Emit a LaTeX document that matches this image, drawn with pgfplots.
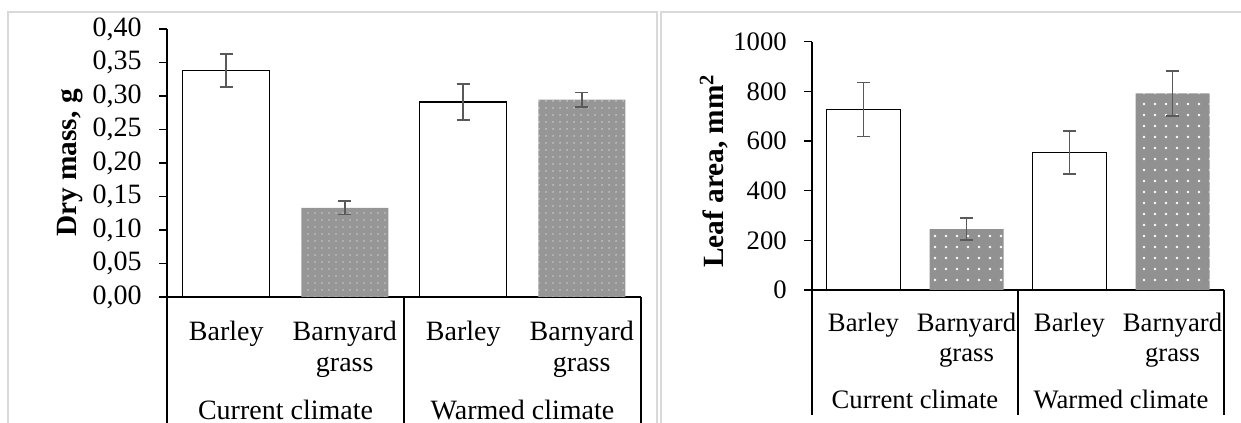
\documentclass[border=0pt]{standalone}
\usepackage{pgfplots}
\pgfplotsset{compat=1.18}
\usepackage{fontspec}
\setmainfont{Liberation Serif}
\usetikzlibrary{patterns.meta}
\definecolor{errgray}{RGB}{89,89,89}
\definecolor{framegray}{RGB}{217,217,217}
\definecolor{patgrayA}{RGB}{150,150,150}
\definecolor{patgrayB}{RGB}{145,145,145}
\newcommand\lfont{\fontsize{21}{23.25}\selectfont}
\newcommand\rfont{\fontsize{20}{22.5}\selectfont}
\newcommand\ylfont{\fontsize{22}{24}\selectfont\bfseries}

\begin{document}
\begin{tikzpicture}
\useasboundingbox (0,0) rectangle (930.75pt,317.25pt);
\draw[framegray, line width=1.2pt] (6pt,-2pt) -- (6pt,308.25pt) -- (492.75pt,308.25pt) -- (492.75pt,-2pt);
\draw[framegray, line width=1.2pt] (495.75pt,-2pt) -- (495.75pt,308.25pt) -- (932pt,308.25pt);

% ---------------- left: dry mass ----------------
\begin{axis}[
  at={(125.25pt,94.5pt)}, anchor=south west,
  scale only axis, width=355.5pt, height=201pt,
  xmin=-0.5, xmax=3.5, ymin=0, ymax=0.4,
  axis lines*=left, axis line style={line width=1.1pt, black},
  clip=false,
  xtick={0,1,2,3},
  xticklabels={Barley, Barnyard\\grass, Barley, Barnyard\\grass},
  x tick style={draw=none},
  xticklabel style={font=\lfont, align=center, anchor=north, inner sep=0pt, yshift=-12pt},
  extra x ticks={0.5,2.5},
  extra x tick labels={Current climate, Warmed climate},
  extra x tick style={major tick length=0pt, xticklabel style={yshift=-65pt}},
  ytick={0,0.05,0.1,0.15,0.2,0.25,0.3,0.35,0.4},
  y tick style={line width=1.1pt, black},
  major tick length=6pt, tick align=outside, ytick pos=left,
  yticklabel style={font=\lfont, anchor=east, inner sep=0pt, xshift=-12.75pt,
    /pgf/number format/.cd, fixed, fixed zerofill, precision=2, use comma, assume math mode=true},
  ylabel={Dry mass, g},
  ylabel style={font=\ylfont, at={(axis description cs:-0.2046,0.5)}, anchor=center},
  error bars/error bar style={errgray, line width=1.2pt},
  error bars/error mark options={errgray, line width=1.2pt, mark size=4.9pt, rotate=90},
]
\addplot[ybar, bar width=65.25pt, bar shift=0pt, fill=white, draw=black, line width=1.1pt,
  error bars/.cd, y dir=both, y explicit]
  coordinates {(0,0.338) +- (0,0.025) (2,0.291) +- (0,0.027)};
\addplot[ybar, bar width=65.25pt, bar shift=0pt, fill=patgrayA, draw=none,
  postaction={pattern={Dots[radius=0.55pt, distance=5.25pt]}, pattern color=white},
  error bars/.cd, y dir=both, y explicit]
  coordinates {(1,0.133) +- (0,0.010) (3,0.2945) +- (0,0.011)};
\draw[line width=1.1pt] (axis cs:-0.5,0) -- ++(0pt,-96pt);
\draw[line width=1.1pt] (axis cs:1.5,0) -- ++(0pt,-96pt);
\draw[line width=1.1pt] (axis cs:3.5,0) -- ++(0pt,-96pt);
\end{axis}

% ---------------- right: leaf area ----------------
\begin{axis}[
  at={(609pt,99.75pt)}, anchor=south west,
  scale only axis, width=309pt, height=186.2pt,
  xmin=-0.5, xmax=3.5, ymin=0, ymax=1000,
  axis lines*=left, axis line style={line width=1.1pt, black},
  clip=false,
  xtick={0,1,2,3},
  xticklabels={Barley, Barnyard\\grass, Barley, Barnyard\\grass},
  x tick style={draw=none},
  xticklabel style={font=\rfont, align=center, anchor=north, inner sep=0pt, yshift=-11.25pt},
  extra x ticks={0.5,2.5},
  extra x tick labels={Current climate, Warmed climate},
  extra x tick style={major tick length=0pt, xticklabel style={yshift=-63.75pt}},
  ytick={0,200,400,600,800,1000},
  y tick style={line width=1.1pt, black},
  major tick length=6pt, tick align=outside, ytick pos=left,
  yticklabel style={font=\rfont, anchor=east, inner sep=0pt, xshift=-12.75pt,
    /pgf/number format/.cd, fixed, 1000 sep={}, assume math mode=true},
  ylabel={Leaf area, mm\textsuperscript{2}},
  ylabel style={font=\ylfont, at={(axis description cs:-0.238,0.479)}, anchor=center},
  error bars/error bar style={errgray, line width=1.2pt},
  error bars/error mark options={errgray, line width=1.2pt, mark size=5pt, rotate=90},
]
\addplot[ybar, bar width=55.5pt, bar shift=0pt, fill=white, draw=black, line width=1.1pt,
  error bars/.cd, y dir=both, y explicit]
  coordinates {(0,727) +- (0,109) (2,554) +- (0,87)};
\addplot[ybar, bar width=55.5pt, bar shift=0pt, fill=patgrayB, draw=none,
  postaction={pattern={Dots[radius=1.1pt, distance=8.25pt]}, pattern color=white},
  error bars/.cd, y dir=both, y explicit]
  coordinates {(1,245) +- (0,44) (3,792) +- (0,90)};
\draw[line width=1.1pt] (axis cs:-0.5,0) -- ++(0pt,-93.75pt);
\draw[line width=1.1pt] (axis cs:1.5,0) -- ++(0pt,-93.75pt);
\draw[line width=1.1pt] (axis cs:3.5,0) -- ++(0pt,-93.75pt);
\end{axis}
\end{tikzpicture}
\end{document}
